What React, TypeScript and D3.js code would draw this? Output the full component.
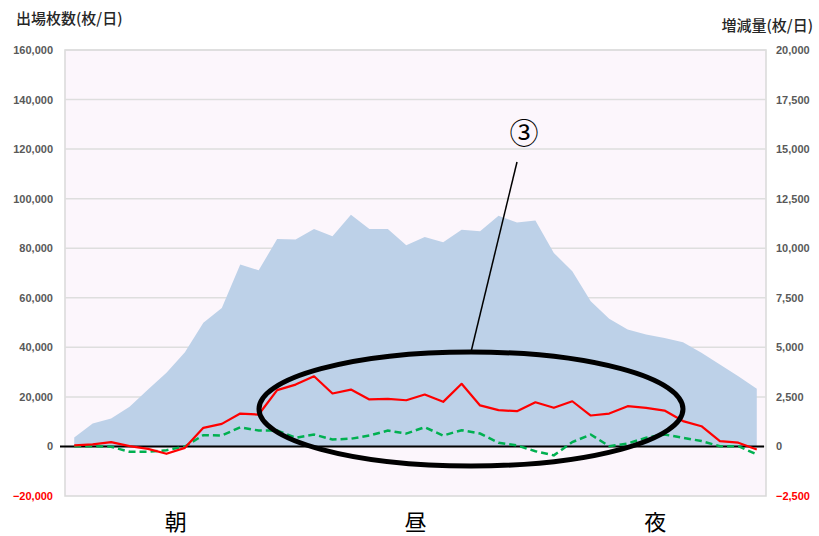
import { useEffect, useRef } from 'react';
import * as d3 from 'd3';

// 38 time slots across the day
const slots = d3.range(38).map(i => `t${i}`);

// 出場枚数 (left axis, area)
const issued = [3600, 9300, 11300, 16000, 23000, 29700, 38000, 49900, 55900, 73400, 71100, 83700, 83500, 87800, 84800, 93500, 87800, 87800, 81200, 84500, 82400, 87500, 86800, 93100, 90400, 91200, 78100, 70700, 58600, 51500, 47200, 45200, 43800, 42100, 37800, 33100, 28300, 23300];

// 増減量 (right axis)
const changeRed = [50, 100, 220, 15, -120, -370, -70, 940, 1140, 1660, 1610, 2840, 3120, 3540, 2670, 2870, 2370, 2400, 2330, 2620, 2250, 3160, 2070, 1830, 1780, 2230, 1950, 2280, 1560, 1660, 2030, 1950, 1810, 1280, 1020, 270, 190, -150];
const changeGreen = [15, 15, -15, -270, -270, -190, 0, 570, 550, 970, 800, 800, 440, 600, 350, 390, 550, 800, 650, 970, 550, 820, 650, 190, 50, -240, -450, 220, 600, 15, 150, 440, 600, 440, 270, 15, 15, -400];

const leftTicks = [-20000, 0, 20000, 40000, 60000, 80000, 100000, 120000, 140000, 160000];
const rightTicks = [-2500, 0, 2500, 5000, 7500, 10000, 12500, 15000, 17500, 20000];
const periods = [
  { label: '朝', slot: 5.5 },
  { label: '昼', slot: 18.5 },
  { label: '夜', slot: 31.5 },
];

export default function App() {
  const svgRef = useRef<SVGSVGElement>(null);
  const width = 819;
  const height = 536;
  const margin = { top: 50, right: 53, bottom: 40, left: 65 };

  useEffect(() => {
    if (!svgRef.current) return;
    const svg = d3.select(svgRef.current);
    svg.selectAll('*').remove();

    const innerW = width - margin.left - margin.right;
    const innerH = height - margin.top - margin.bottom;
    const font = "'Noto Sans CJK JP', 'Noto Sans', sans-serif";

    const x = d3.scaleBand<string>().domain(slots).range([margin.left, margin.left + innerW]);
    const cx = (i: number) => (x(slots[i]) as number) + x.bandwidth() / 2;
    const yL = d3.scaleLinear().domain([-20000, 160000]).range([margin.top + innerH, margin.top]);
    const yR = d3.scaleLinear().domain([-2500, 20000]).range([margin.top + innerH, margin.top]);

    svg.append('rect').attr('width', width).attr('height', height).attr('fill', '#ffffff');

    // plot area
    svg.append('rect')
      .attr('x', margin.left).attr('y', margin.top)
      .attr('width', innerW).attr('height', innerH)
      .attr('fill', '#fcf6fc').attr('stroke', '#d9d9d9').attr('stroke-width', 1.5);

    // gridlines
    svg.append('g').selectAll('line')
      .data(leftTicks.filter(t => t !== -20000))
      .enter().append('line')
      .attr('x1', margin.left).attr('x2', margin.left + innerW)
      .attr('y1', d => yL(d)).attr('y2', d => yL(d))
      .attr('stroke', '#dedede').attr('stroke-width', 1.5);

    // area
    const area = d3.area<number>()
      .x((_, i) => cx(i))
      .y0(yL(0))
      .y1(d => yL(d));
    svg.append('path').datum(issued).attr('d', area).attr('fill', '#bdd1e8');

    // zero line
    svg.append('line')
      .attr('x1', 60).attr('x2', margin.left + innerW - 2)
      .attr('y1', yL(0)).attr('y2', yL(0))
      .attr('stroke', '#000').attr('stroke-width', 2);

    const line = d3.line<number>().x((_, i) => cx(i)).y(d => yR(d));
    svg.append('path').datum(changeGreen).attr('d', line)
      .attr('fill', 'none').attr('stroke', '#00b050').attr('stroke-width', 2.5)
      .attr('stroke-dasharray', '7,4');
    svg.append('path').datum(changeRed).attr('d', line)
      .attr('fill', 'none').attr('stroke', '#ff0000').attr('stroke-width', 2.2)
      .attr('stroke-linejoin', 'round');

    // annotation ellipse + leader
    svg.append('ellipse')
      .attr('cx', 471).attr('cy', 409).attr('rx', 212).attr('ry', 57)
      .attr('fill', 'none').attr('stroke', '#000').attr('stroke-width', 5);
    svg.append('line')
      .attr('x1', 517).attr('y1', 162).attr('x2', 471).attr('y2', 352)
      .attr('stroke', '#000').attr('stroke-width', 1.5);
    svg.append('text')
      .attr('x', 524).attr('y', 144).attr('text-anchor', 'middle')
      .attr('font-family', font).attr('font-size', 29).attr('fill', '#000')
      .text('③');

    // left axis labels
    svg.append('g').selectAll('text')
      .data(leftTicks).enter().append('text')
      .attr('x', 53).attr('y', d => yL(d) + 4)
      .attr('text-anchor', 'end')
      .attr('font-family', "'Liberation Sans', Arial, sans-serif")
      .attr('font-size', 11).attr('font-weight', 'bold')
      .attr('fill', d => d < 0 ? '#ff0000' : '#595959')
      .text(d => d3.format(',')(d));

    // right axis labels
    svg.append('g').selectAll('text')
      .data(rightTicks).enter().append('text')
      .attr('x', 776).attr('y', d => yR(d) + 4)
      .attr('text-anchor', 'start')
      .attr('font-family', "'Liberation Sans', Arial, sans-serif")
      .attr('font-size', 11).attr('font-weight', 'bold')
      .attr('fill', d => d < 0 ? '#ff0000' : '#595959')
      .text(d => d3.format(',')(d));

    // axis titles
    svg.append('text')
      .attr('x', 16).attr('y', 24)
      .attr('font-family', font).attr('font-size', 15).attr('font-weight', 500)
      .attr('fill', '#262626').text('出場枚数(枚/日)');
    svg.append('text')
      .attr('x', 813).attr('y', 31).attr('text-anchor', 'end')
      .attr('font-family', font).attr('font-size', 15).attr('font-weight', 500)
      .attr('fill', '#262626').text('増減量(枚/日)');

    // period labels
    svg.append('g').selectAll('text')
      .data(periods).enter().append('text')
      .attr('x', d => margin.left + (d.slot + 0.5) * x.step())
      .attr('y', 530).attr('text-anchor', 'middle')
      .attr('font-family', font).attr('font-size', 22)
      .attr('fill', '#000')
      .text(d => d.label);
  }, []);

  return (
    <svg
      ref={svgRef}
      width={width}
      height={height}
      viewBox={`0 0 ${width} ${height}`}
      style={{ position: 'absolute', left: 0, top: 0, display: 'block' }}
    />
  );
}
